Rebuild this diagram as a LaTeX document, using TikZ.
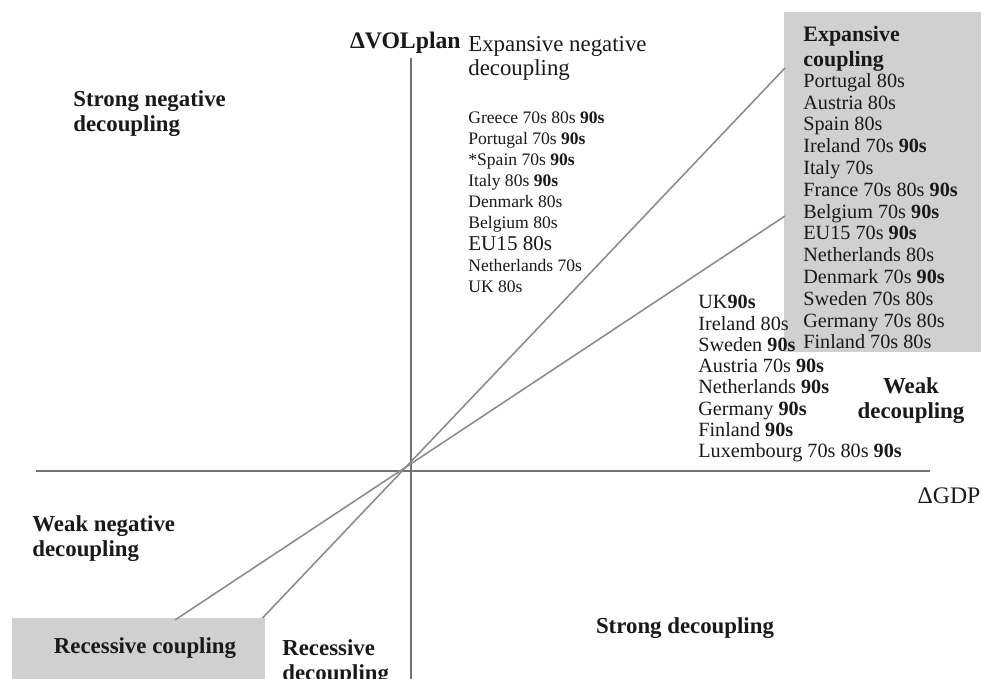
\documentclass[tikz,border=0pt]{standalone}
\usepackage{fontspec}
\setmainfont{Liberation Serif}
\usepackage{tikz}
\usetikzlibrary{positioning}
\definecolor{boxgray}{RGB}{208, 208, 208}
\definecolor{axisgray}{RGB}{115, 115, 115}
\definecolor{linegray}{RGB}{140, 140, 140}
\definecolor{textdark}{RGB}{25, 25, 25}
\newcommand{\nineties}{\textbf{90s}}

\begin{document}
\begin{tikzpicture}[every node/.style={text=textdark},
    head/.style={font=\fontsize{13}{14.2}\selectfont\bfseries, align=left, inner sep=0pt},
    entries/.style={font=\fontsize{11.5}{12.3}\selectfont, align=left, inner sep=0pt},
    shadebox/.style={fill=boxgray, draw=none, inner sep=0pt},
    axis/.style={draw=axisgray, line width=1.6pt},
    trend/.style={draw=linegray, line width=0.9pt}]
    \useasboundingbox (0,0) rectangle (19.64,13.58);

    % Shaded quadrants
    \node[shadebox, anchor=north west, minimum width=3.94cm, minimum height=6.8cm] (expbox) at (15.68, 13.34) {};
    \node[shadebox, anchor=south west, minimum width=5.06cm, minimum height=1.22cm] (recbox) at (0.24, 0) {};

    % Axes
    \coordinate (ytop) at (8.22, 12.42);
    \coordinate (ybot) at (8.22, 0);
    \coordinate (xleft) at (0.72, 4.16);
    \coordinate (xright) at (18.60, 4.16);
    \draw[axis] (ybot) -- (ytop);
    \draw[axis] (xleft) -- (xright);

    % Coupling boundaries
    \coordinate (steeplow) at (5.25, 1.22);
    \coordinate (steephigh) at (15.70, 12.22);
    \coordinate (flatlow) at (3.50, 1.18);
    \coordinate (flathigh) at (15.70, 9.26);
    \draw[trend] (steeplow) -- (steephigh);
    \draw[trend] (flatlow) -- (flathigh);

    % Axis labels
    \node[font=\fontsize{13.5}{14}\selectfont\bfseries, anchor=east, inner sep=0pt] (ylabel) at (9.22, 12.72) {ΔVOLplan};
    \node[font=\fontsize{13.5}{14}\selectfont, inner sep=0pt] (xlabel) at (18.98, 3.66) {ΔGDP};

    % Quadrant titles
    \node[head, font=\fontsize{13}{13.4}\selectfont, anchor=north west] (expneg) at (9.36, 12.86) {Expansive negative\\decoupling};
    \node[head, anchor=north west] (strongneg) at (1.46, 11.78) {Strong negative\\decoupling};
    \node[head, font=\fontsize{12.5}{14}\selectfont\bfseries, anchor=north west] (expcoup) at (16.06, 13.06) {Expansive\\coupling};
    \node[head, align=center] (weakdec) at (18.22, 5.56) {Weak\\decoupling};
    \node[head, anchor=north west] (weakneg) at (0.64, 3.28) {Weak negative\\decoupling};
    \node[head] (reccoup) at (2.90, 0.62) {Recessive coupling};
    \node[head, anchor=north west] (recdec) at (5.64, 0.80) {Recessive\\decoupling};
    \node[head] (strongdec) at (13.70, 1.02) {Strong decoupling};

    % Country lists
    \node[entries, font=\fontsize{10}{12.05}\selectfont, anchor=north west] (expneglist) at (9.36, 11.36) {Greece 70s 80s \nineties\\Portugal 70s \nineties\\*Spain 70s \nineties\\Italy 80s \nineties\\Denmark 80s\\Belgium 80s\\{\fontsize{12}{12.05}\selectfont EU15 80s}\\Netherlands 70s\\UK 80s};
    \node[entries, font=\fontsize{11.5}{12.4}\selectfont, anchor=north west] (expcouplist) at (16.06, 12.12) {Portugal 80s\\Austria 80s\\Spain 80s\\Ireland 70s \nineties\\Italy 70s\\France 70s 80s \nineties\\Belgium 70s \nineties\\EU15 70s \nineties\\Netherlands 80s\\Denmark 70s \nineties\\Sweden 70s 80s\\Germany 70s 80s\\Finland 70s 80s};
    \node[entries, font=\fontsize{11.5}{12.1}\selectfont, anchor=north west] (weakdeclist) at (13.96, 7.68) {UK\nineties\\Ireland 80s\\Sweden \nineties\\Austria 70s \nineties\\Netherlands \nineties\\Germany \nineties\\Finland \nineties\\Luxembourg 70s 80s \nineties};
\end{tikzpicture}
\end{document}
